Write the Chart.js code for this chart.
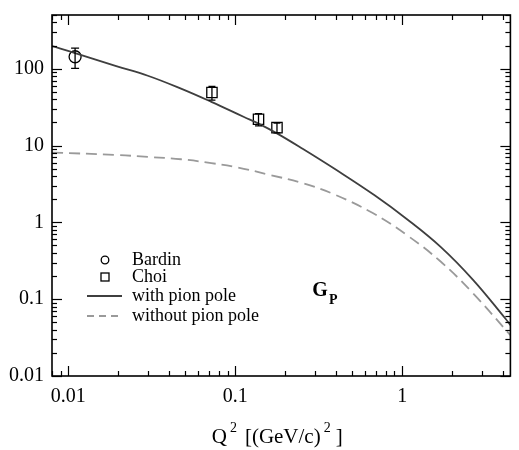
<!DOCTYPE html>
<html>
<head>
<meta charset="utf-8">
<script src="https://cdn.jsdelivr.net/npm/chart.js@4.4.0/dist/chart.umd.min.js"></script>
<style>
  html, body { margin: 0; padding: 0; background: #fff; }
  #wrap { width: 519px; height: 450px; }
</style>
</head>
<body>
<div id="wrap"><canvas id="gp" width="519" height="450"></canvas></div>
<script>
// Induced pseudoscalar form factor G_P versus Q^2 [(GeV/c)^2]
const Q2_WITH_POLE = [0.008, 0.011, 0.0194, 0.03, 0.0474, 0.072, 0.113, 0.138, 0.178, 0.255, 0.398, 0.684, 1.07, 1.70, 2.65, 4.15, 4.45];
const GP_WITH_POLE = [197, 160, 108, 81, 55, 37, 23.5, 19.3, 14.4, 9.0, 4.9, 2.25, 1.10, 0.48, 0.18, 0.056, 0.046];

const Q2_WITHOUT_POLE = [0.008, 0.0194, 0.03, 0.0474, 0.072, 0.103, 0.161, 0.255, 0.398, 0.667, 1.07, 1.70, 2.65, 4.45];
const GP_WITHOUT_POLE = [8.1, 7.55, 7.1, 6.63, 5.9, 5.2, 4.15, 3.23, 2.28, 1.32, 0.68, 0.309, 0.12, 0.034];

const BARDIN_Q2 = [0.011];
const BARDIN_GP = [143];
const BARDIN_ERR = [42];

const CHOI_Q2 = [0.0726, 0.138, 0.178];
const CHOI_GP = [49, 22, 17.1];
const CHOI_ERR = [10, 4, 2.5];

const X_MAJOR = [0.01, 0.1, 1];
const X_LABELS = ['0.01', '0.1', '1'];
const Y_MAJOR = [0.01, 0.1, 1, 10, 100];
const Y_LABELS = ['0.01', '0.1', '1', '10', '100'];
const MINOR_STEPS = [2, 3, 4, 5, 6, 7, 8, 9];

const SERIF = "'Liberation Serif', 'Times New Roman', serif";
const toPoints = (xs, ys) => xs.map((x, i) => ({ x, y: ys[i] }));

// Vertical error bars for the measured points
const errorBars = {
  id: 'errorBars',
  afterDatasetsDraw(chart) {
    const { ctx, scales: { x, y } } = chart;
    const sets = [
      { q: BARDIN_Q2, v: BARDIN_GP, e: BARDIN_ERR, cap: 4 },
      { q: CHOI_Q2, v: CHOI_GP, e: CHOI_ERR, cap: 3.5 }
    ];
    ctx.save();
    ctx.strokeStyle = '#000';
    ctx.lineWidth = 1.3;
    sets.forEach(s => s.q.forEach((q, i) => {
      const px = x.getPixelForValue(q);
      const top = y.getPixelForValue(s.v[i] + s.e[i]);
      const bot = y.getPixelForValue(s.v[i] - s.e[i]);
      ctx.beginPath();
      ctx.moveTo(px, top); ctx.lineTo(px, bot);
      ctx.moveTo(px - s.cap, top); ctx.lineTo(px + s.cap, top);
      ctx.moveTo(px - s.cap, bot); ctx.lineTo(px + s.cap, bot);
      ctx.stroke();
    }));
    ctx.restore();
  }
};

// Box frame with inward major and minor ticks on all four sides
const frameTicks = {
  id: 'frameTicks',
  afterDraw(chart) {
    const { ctx, chartArea: a, scales: { x, y } } = chart;
    ctx.save();
    ctx.strokeStyle = '#000';
    ctx.lineWidth = 1.2;
    const seg = (x1, y1, x2, y2) => { ctx.beginPath(); ctx.moveTo(x1, y1); ctx.lineTo(x2, y2); ctx.stroke(); };
    const decades = [-3, -2, -1, 0, 1, 2, 3];
    decades.forEach(d => {
      const base = Math.pow(10, d);
      [1].concat(MINOR_STEPS).forEach(m => {
        const v = m * base;
        const len = m === 1 ? 10 : 5;
        if (v >= x.min && v <= x.max) {
          const px = Math.round(x.getPixelForValue(v)) + 0.5;
          seg(px, a.bottom, px, a.bottom - len);
          seg(px, a.top, px, a.top + len);
        }
        if (v >= y.min && v <= y.max) {
          const py = Math.round(y.getPixelForValue(v)) + 0.5;
          seg(a.left, py, a.left + len, py);
          seg(a.right, py, a.right - len, py);
        }
      });
    });
    ctx.lineWidth = 1.6;
    ctx.strokeRect(a.left, a.top, a.right - a.left, a.bottom - a.top);
    ctx.restore();
  }
};

// Legend inside the plot, axis title with superscripts, and the G_P label
const annotations = {
  id: 'annotations',
  afterDraw(chart) {
    const { ctx, chartArea: a, scales: { x, y } } = chart;
    const ds = chart.data.datasets;
    ctx.save();
    ctx.fillStyle = '#000';
    ctx.textBaseline = 'alphabetic';

    // legend
    const rows = [
      { d: ds[2], dy: 245 },
      { d: ds[3], dy: 262 },
      { d: ds[0], dy: 281 },
      { d: ds[1], dy: 301 }
    ];
    ctx.font = '18px ' + SERIF;
    rows.forEach(r => {
      const cy = a.top + r.dy;
      const cx = a.left + 53;
      ctx.strokeStyle = '#000';
      ctx.lineWidth = 1.3;
      ctx.setLineDash([]);
      if (r.d.pointStyle === 'circle') {
        ctx.beginPath(); ctx.arc(cx, cy, 3.8, 0, Math.PI * 2); ctx.stroke();
      } else if (r.d.pointStyle === 'rect') {
        ctx.strokeRect(cx - 4, cy - 4, 8, 8);
      } else {
        ctx.strokeStyle = r.d.borderColor;
        ctx.lineWidth = r.d.borderWidth;
        ctx.setLineDash(r.d.borderDash ? [7, 5] : []);
        ctx.beginPath(); ctx.moveTo(a.left + 35, cy); ctx.lineTo(a.left + 70, cy); ctx.stroke();
        ctx.setLineDash([]);
      }
      ctx.textAlign = 'left';
      ctx.fillText(r.d.label, a.left + 80, cy + 4.5);
    });

    // G_P label
    const gx = x.getPixelForValue(0.29);
    const gy = y.getPixelForValue(0.111);
    ctx.font = 'bold 20px ' + SERIF;
    ctx.fillText('G', gx, gy);
    const gw = ctx.measureText('G').width;
    ctx.font = 'bold 14px ' + SERIF;
    ctx.fillText('P', gx + gw + 1, gy + 8);

    // x-axis title: Q^2 [(GeV/c)^2]
    const pieces = [
      { t: 'Q', sup: false, gap: 0 },
      { t: '2', sup: true, gap: 3 },
      { t: '[(GeV/c)', sup: false, gap: 8 },
      { t: '2', sup: true, gap: 3 },
      { t: ']', sup: false, gap: 5 }
    ];
    const fontFor = p => (p.sup ? '14px ' : '21px ') + SERIF;
    let total = 0;
    pieces.forEach(p => { ctx.font = fontFor(p); p.w = ctx.measureText(p.t).width; total += p.gap + p.w; });
    let cx = (a.left + a.right) / 2 - 4 - total / 2;
    const base = 443;
    pieces.forEach(p => {
      cx += p.gap;
      ctx.font = fontFor(p);
      ctx.fillText(p.t, cx, p.sup ? base - 11 : base);
      cx += p.w;
    });
    ctx.restore();
  }
};

new Chart(document.getElementById('gp'), {
  type: 'scatter',
  data: {
    datasets: [
      {
        label: 'with pion pole',
        data: toPoints(Q2_WITH_POLE, GP_WITH_POLE),
        showLine: true,
        borderColor: '#3f3f3f',
        borderWidth: 1.8,
        pointRadius: 0,
        tension: 0.4,
        fill: false
      },
      {
        label: 'without pion pole',
        data: toPoints(Q2_WITHOUT_POLE, GP_WITHOUT_POLE),
        showLine: true,
        borderColor: '#9a9a9a',
        borderWidth: 1.8,
        borderDash: [11, 6],
        pointRadius: 0,
        tension: 0.4,
        fill: false
      },
      {
        label: 'Bardin',
        data: toPoints(BARDIN_Q2, BARDIN_GP),
        showLine: false,
        pointStyle: 'circle',
        pointRadius: 6,
        pointBorderColor: '#000',
        pointBackgroundColor: 'rgba(0,0,0,0)',
        pointBorderWidth: 1.3
      },
      {
        label: 'Choi',
        data: toPoints(CHOI_Q2, CHOI_GP),
        showLine: false,
        pointStyle: 'rect',
        pointRadius: 7.3,
        pointBorderColor: '#000',
        pointBackgroundColor: 'rgba(0,0,0,0)',
        pointBorderWidth: 1.3
      }
    ]
  },
  options: {
    responsive: false,
    animation: false,
    events: [],
    layout: { padding: { top: 15, right: 1, left: 0, bottom: 0 } },
    plugins: { legend: { display: false }, tooltip: { enabled: false } },
    scales: {
      x: {
        type: 'logarithmic',
        min: 0.008,
        max: 4.45,
        grid: { display: false, drawTicks: false },
        border: { display: false },
        afterBuildTicks: s => { s.ticks = X_MAJOR.map(v => ({ value: v, major: true })); },
        afterFit: s => { s.height = 74; s.paddingLeft = 0; s.paddingRight = 0; },
        ticks: {
          autoSkip: false,
          maxRotation: 0,
          padding: 9,
          color: '#000',
          font: { family: SERIF, size: 20 },
          callback: (v) => X_LABELS[X_MAJOR.indexOf(v)] ?? ''
        }
      },
      y: {
        type: 'logarithmic',
        min: 0.01,
        max: 500,
        grid: { display: false, drawTicks: false },
        border: { display: false },
        afterBuildTicks: s => { s.ticks = Y_MAJOR.map(v => ({ value: v, major: true })); },
        afterFit: s => { s.width = 52; s.paddingTop = 0; s.paddingBottom = 0; },
        ticks: {
          autoSkip: false,
          padding: 8,
          color: '#000',
          font: { family: SERIF, size: 20 },
          callback: (v) => Y_LABELS[Y_MAJOR.indexOf(v)] ?? ''
        }
      }
    }
  },
  plugins: [errorBars, frameTicks, annotations]
});
</script>
</body>
</html>
